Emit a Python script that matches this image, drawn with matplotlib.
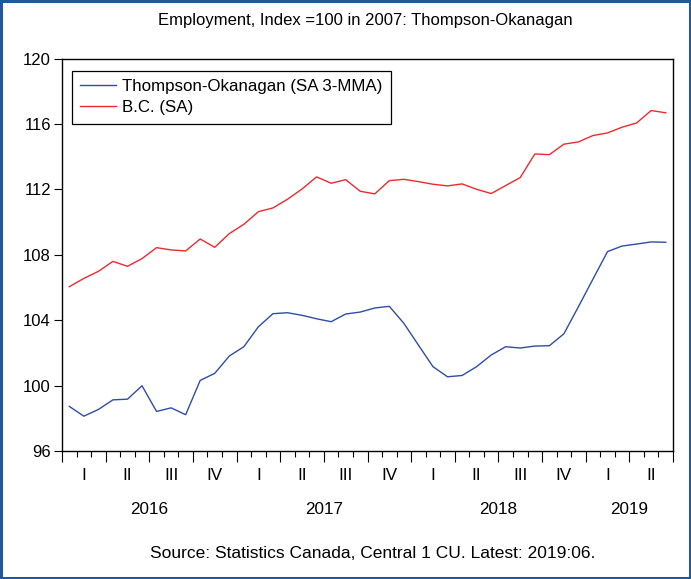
import numpy as np
import matplotlib
matplotlib.use("Agg")
import matplotlib.pyplot as plt
import matplotlib.transforms as mtransforms
from matplotlib.patches import Rectangle
from matplotlib.ticker import MultipleLocator, NullFormatter

plt.rcParams['font.family'] = ['Liberation Sans', 'DejaVu Sans']

# ---- data (monthly, Jan 2016 - Jun 2019) ----
bc_sa = [106.05, 106.56, 106.99, 107.60, 107.30, 107.77, 108.44, 108.30, 108.24, 108.97,
         108.46, 109.30, 109.87, 110.64, 110.87, 111.40, 112.03, 112.77, 112.38, 112.60,
         111.89, 111.73, 112.54, 112.62, 112.48, 112.32, 112.22, 112.34, 112.01, 111.75,
         112.24, 112.73, 114.17, 114.13, 114.77, 114.91, 115.30, 115.46, 115.81, 116.07,
         116.83, 116.69]
thompson_ok = [98.73, 98.13, 98.54, 99.13, 99.17, 99.99, 98.42, 98.64, 98.22, 100.32,
               100.75, 101.81, 102.38, 103.60, 104.40, 104.46, 104.30, 104.09, 103.91, 104.38,
               104.50, 104.75, 104.85, 103.81, 102.48, 101.16, 100.54, 100.62, 101.16, 101.87,
               102.38, 102.30, 102.42, 102.44, 103.17, 104.83, 106.52, 108.20, 108.54, 108.66,
               108.79, 108.77]
quarter_labels = ["I", "II", "III", "IV", "I", "II", "III", "IV",
                  "I", "II", "III", "IV", "I", "II"]
years = ["2016", "2017", "2018", "2019"]
year_months = [12, 12, 12, 6]
y_ticks = [96, 100, 104, 108, 112, 116, 120]

title = "Employment, Index =100 in 2007: Thompson-Okanagan"
source = "Source: Statistics Canada, Central 1 CU. Latest: 2019:06."
label_to = "Thompson-Okanagan (SA 3-MMA)"
label_bc = "B.C. (SA)"

n = len(bc_sa)
x = np.arange(n) + 0.5

W, H = 691, 579
fig = plt.figure(figsize=(W / 100, H / 100), dpi=100)
ax = fig.add_axes([62 / W, 1 - 451 / H, (673 - 62) / W, (451 - 58.7) / H])

ax.plot(x, thompson_ok, color='#2f4da5', lw=1.0, label=label_to)
ax.plot(x, bc_sa, color='#ec2a2f', lw=1.0, label=label_bc)

ax.set_xlim(0, n)
ax.set_ylim(96, 120)
ax.set_yticks(y_ticks)
ax.tick_params(axis='y', direction='out', length=6, width=0.8, labelsize=12, pad=2)

ax.xaxis.set_major_locator(MultipleLocator(3))
ax.xaxis.set_minor_locator(MultipleLocator(1))
ax.xaxis.set_major_formatter(NullFormatter())
ax.tick_params(axis='x', which='major', direction='out', length=8, width=0.8)
ax.tick_params(axis='x', which='minor', direction='out', length=4, width=0.8)

for sp in ax.spines.values():
    sp.set_linewidth(1.0)
    sp.set_color('black')

trans = mtransforms.blended_transform_factory(ax.transData, fig.transFigure)
for i, q in enumerate(quarter_labels):
    ax.text(3 * i + 1.5, 1 - 475 / H, q, transform=trans, ha='center', va='center', fontsize=12.3)
start = 0
for yr, m in zip(years, year_months):
    ax.text(start + m / 2, 1 - 509 / H, yr, transform=trans, ha='center', va='center', fontsize=12.3)
    start += m

fig.text(365.5 / W, 1 - 20 / H, title, ha='center', va='center', fontsize=12)
fig.text(373 / W, 1 - 553 / H, source, ha='center', va='center', fontsize=12.5)

leg = ax.legend(loc='upper left', bbox_to_anchor=((71.7 - 62) / 611, 1 - (70.7 - 58.7) / 392.3),
                fontsize=12.2, frameon=True, fancybox=False, framealpha=1, edgecolor='black',
                handlelength=2.1, handletextpad=0.35, borderpad=0.5, labelspacing=0.35,
                borderaxespad=0)
leg.get_frame().set_linewidth(0.9)

fig.patches.append(Rectangle((1.25 / W, 1.25 / H), 1 - 2.5 / W, 1 - 2.5 / H,
                             transform=fig.transFigure, fill=False,
                             edgecolor='#24579a', lw=2.2, zorder=10))

fig.savefig("out.png", dpi=100)
